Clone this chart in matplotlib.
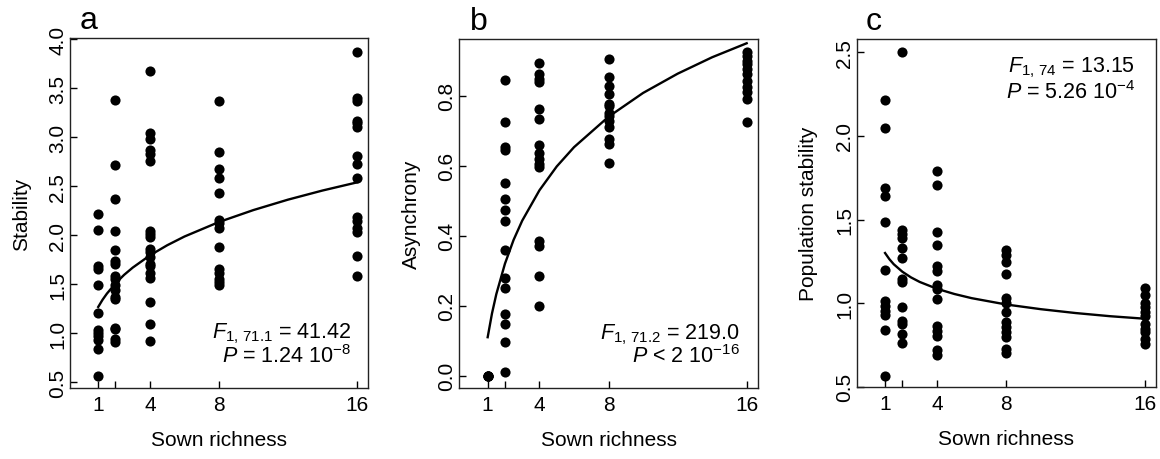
import matplotlib
matplotlib.use("Agg")
import matplotlib.pyplot as plt
from matplotlib.ticker import FormatStrFormatter

plt.rcParams['font.family'] = ['Liberation Sans', 'DejaVu Sans']
plt.rcParams['mathtext.fontset'] = 'custom'
plt.rcParams['mathtext.rm'] = 'Liberation Sans'
plt.rcParams['mathtext.it'] = 'Liberation Sans:italic'

# Sown richness levels and tick labels (2 has a tick but no label)
richness = [1, 2, 4, 8, 16]
richness_labels = ['1', '', '4', '8', '16']

# a - community stability, one list per richness level
stability = [
    [2.22, 2.05, 1.69, 1.66, 1.49, 1.21, 1.03, 1.00, 0.97, 0.93, 0.84, 0.57],
    [3.38, 2.72, 2.37, 2.04, 1.85, 1.74, 1.71, 1.59, 1.55, 1.49, 1.44, 1.37, 1.35, 1.06, 1.04, 0.94, 0.91],
    [3.68, 3.04, 2.98, 2.87, 2.83, 2.76, 2.04, 2.01, 1.98, 1.86, 1.83, 1.78, 1.71, 1.69, 1.62, 1.57, 1.32, 1.10, 0.92],
    [3.37, 2.85, 2.68, 2.58, 2.43, 2.16, 2.13, 2.07, 1.88, 1.66, 1.62, 1.55, 1.52, 1.49],
    [3.87, 3.40, 3.37, 3.17, 3.15, 3.11, 2.81, 2.73, 2.58, 2.19, 2.15, 2.07, 2.03, 1.79, 1.59],
]

# b - species asynchrony
asynchrony = [
    [0.0, 0.0, 0.0, 0.0],
    [0.845, 0.724, 0.654, 0.645, 0.552, 0.505, 0.474, 0.443, 0.36, 0.278, 0.252, 0.176, 0.148, 0.095, 0.012],
    [0.895, 0.862, 0.848, 0.838, 0.762, 0.735, 0.659, 0.636, 0.619, 0.605, 0.595, 0.386, 0.371, 0.286, 0.20],
    [0.905, 0.854, 0.827, 0.805, 0.776, 0.770, 0.752, 0.741, 0.729, 0.710, 0.676, 0.662, 0.607],
    [0.926, 0.914, 0.900, 0.890, 0.876, 0.862, 0.843, 0.824, 0.811, 0.790, 0.724],
]

# c - population stability
pop_stability = [
    [2.215, 2.045, 1.686, 1.643, 1.483, 1.20, 1.014, 0.985, 0.955, 0.929, 0.841, 0.566],
    [2.50, 1.437, 1.413, 1.387, 1.327, 1.268, 1.144, 1.124, 0.975, 0.895, 0.875, 0.815, 0.761],
    [1.792, 1.708, 1.423, 1.347, 1.224, 1.194, 1.108, 1.084, 1.024, 0.865, 0.835, 0.801, 0.721, 0.689],
    [1.32, 1.288, 1.244, 1.174, 1.028, 1.004, 0.949, 0.889, 0.855, 0.825, 0.795, 0.725, 0.705],
    [1.088, 1.048, 1.004, 0.975, 0.945, 0.925, 0.875, 0.845, 0.825, 0.785, 0.755],
]

# fitted curves
curve_x = [1, 1.25, 1.5, 2, 2.5, 3, 4, 5, 6, 8, 10, 12, 14, 16]
curve_a = [1.270, 1.343, 1.405, 1.510, 1.597, 1.671, 1.796, 1.899, 1.988, 2.136, 2.258, 2.364, 2.457, 2.540]
curve_b = [0.110, 0.178, 0.233, 0.320, 0.388, 0.443, 0.530, 0.598, 0.653, 0.740, 0.808, 0.863, 0.910, 0.950]
curve_c = [1.300, 1.263, 1.233, 1.188, 1.154, 1.127, 1.086, 1.055, 1.030, 0.992, 0.964, 0.941, 0.922, 0.907]

FS = 15


def draw_panel(ax, groups, curve, ylabel, yticks, ylim, letter, stats, stats_pos):
    xs, ys = [], []
    for r, vals in zip(richness, groups):
        xs += [r] * len(vals)
        ys += vals
    ax.plot(xs, ys, 'o', color='black', ms=7.3, mew=0, zorder=3)
    ax.plot(curve_x, curve, color='black', lw=1.7, zorder=4)

    ax.set_xlim(-0.64, 16.64)
    ax.set_ylim(*ylim)
    ax.set_xticks(richness)
    ax.set_xticklabels(richness_labels)
    ax.set_yticks(yticks)
    ax.yaxis.set_major_formatter(FormatStrFormatter('%.1f'))
    ax.tick_params(direction='in', length=5, width=1, labelsize=FS)
    ax.tick_params(axis='x', pad=5)
    ax.tick_params(axis='y', pad=2, labelrotation=90)
    for lab in ax.get_yticklabels():
        lab.set_va('center')
    for sp in ax.spines.values():
        sp.set_linewidth(1.0)
        sp.set_color('#222222')

    ax.set_xlabel('Sown richness', fontsize=FS, labelpad=11)
    ax.set_ylabel(ylabel, fontsize=FS, labelpad=12)
    ax.text(letter[1], 1.028, letter[0], transform=ax.transAxes, fontsize=23,
            ha='left', va='baseline')

    x, y1, y2 = stats_pos
    ax.text(x, y1, stats[0], transform=ax.transAxes, fontsize=15.5,
            ha='right', va='baseline')
    ax.text(x, y2, stats[1], transform=ax.transAxes, fontsize=15.5,
            ha='right', va='baseline')


fig = plt.figure(figsize=(11.6, 4.6), dpi=100)
ax_a = fig.add_axes([0.0603, 0.1537, 0.2569, 0.7609])
ax_b = fig.add_axes([0.3960, 0.1537, 0.2572, 0.7592])
ax_c = fig.add_axes([0.7385, 0.1559, 0.2580, 0.7572])

draw_panel(ax_a, stability, curve_a, 'Stability',
           [0.5, 1.0, 1.5, 2.0, 2.5, 3.0, 3.5, 4.0], (0.44, 4.01), ('a', 0.034),
           [r'$\mathit{F}_{1,\,71.1}$ = 41.42', r'$\mathit{P}$ = 1.24 10$^{-8}$'],
           (0.945, 0.144, 0.075))
draw_panel(ax_b, asynchrony, curve_b, 'Asynchrony',
           [0.0, 0.2, 0.4, 0.6, 0.8], (-0.036, 0.962), ('b', 0.036),
           [r'$\mathit{F}_{1,\,71.2}$ = 219.0', r'$\mathit{P}$ < 2 10$^{-16}$'],
           (0.941, 0.144, 0.075))
draw_panel(ax_c, pop_stability, curve_c, 'Population stability',
           [0.5, 1.0, 1.5, 2.0, 2.5], (0.497, 2.58), ('c', 0.03),
           [r'$\mathit{F}_{1,\,74}$ = 13.15', r'$\mathit{P}$ = 5.26 10$^{-4}$'],
           (0.93, 0.906, 0.83))

fig.savefig('out.png', dpi=100)
